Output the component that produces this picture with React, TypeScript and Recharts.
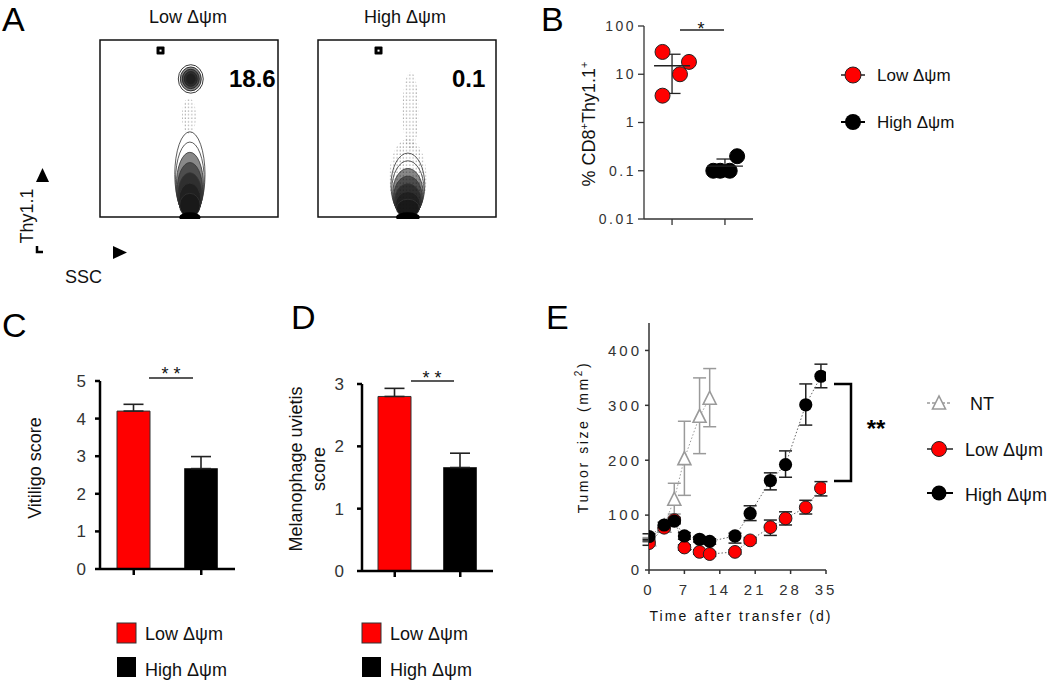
import React from 'react'
import {
  Bar,
  BarChart,
  Cell,
  ErrorBar,
  Legend,
  ReferenceArea,
  Scatter,
  ScatterChart,
  XAxis,
  YAxis,
} from 'recharts'

const FONT = '"Liberation Sans", Arial, Helvetica, sans-serif'
const RED = '#ff0000'
const INK = '#111'
const TICK = '#333'
const NT_GREY = '#9a9a9a'

// ---------- A: flow plots (SSC vs Thy1.1, 0-100 display units) ----------
type Pop = { ssc: number; thy: number; w: number; h: number; kind: 'blob' | 'column' | 'cloud' }
const lowFlow: Pop[] = [
  { ssc: 50, thy: 57, w: 4, h: 10, kind: 'cloud' },
  { ssc: 51, thy: 78, w: 7, h: 8, kind: 'blob' },
  { ssc: 50.5, thy: 24, w: 8.5, h: 24, kind: 'column' },
]
const highFlow: Pop[] = [
  { ssc: 52, thy: 60, w: 4.5, h: 22, kind: 'cloud' },
  { ssc: 50.5, thy: 22, w: 10.5, h: 22, kind: 'cloud' },
  { ssc: 50.5, thy: 18, w: 9.5, h: 18, kind: 'column' },
]
const gateLow = [{ ssc: 34, thy: 94 }]
const gateHigh = [{ ssc: 34, thy: 94 }]
const pctLow = '18.6'
const pctHigh = '0.1'

// ---------- B: % CD8+Thy1.1+ (log), x = group index + jitter ----------
const lowB = [
  { x: -0.18, y: 29 },
  { x: 0.32, y: 18 },
  { x: 0.15, y: 10 },
  { x: -0.18, y: 3.6 },
]
const highB = [
  { x: 0.78, y: 0.1 },
  { x: 0.91, y: 0.1 },
  { x: 1.09, y: 0.1 },
  { x: 1.23, y: 0.2 },
]
const meanB = [15, 0.125]
const sdB = [11, 0.05]
const logTicks = [0.01, 0.1, 1, 10, 100]

// ---------- C / D: scores ----------
const groups = ['Low Δψm', 'High Δψm']
const vitiligoScore = [4.2, 2.67]
const vitiligoSem = [0.18, 0.32]
const uveitisScore = [2.8, 1.66]
const uveitisSem = [0.13, 0.23]

// ---------- E: tumor growth ----------
const ntDays = [0, 3, 5, 7, 10, 12]
const ntSize = [55, 80, 129, 203, 280, 313]
const ntErr = [[4, 4], [5, 5], [27, 29], [67, 68], [68, 70], [52, 54]]
const txDays = [0, 3, 5, 7, 10, 12, 17, 20, 24, 27, 31, 34]
const lowSize = [49, 77, 91, 41, 33, 29, 33, 54, 78, 94, 114, 149]
const lowErr = [[4, 4], [5, 5], [5, 5], [5, 5], [4, 4], [4, 4], [4, 4], [5, 5], [15, 13], [12, 12], [12, 13], [14, 12]]
const highSize = [61, 82, 89, 62, 56, 52, 62, 103, 163, 192, 301, 353]
const highErr = [[5, 5], [5, 5], [5, 5], [6, 6], [5, 5], [5, 5], [13, 5], [13, 14], [17, 14], [23, 25], [37, 38], [21, 22]]

const PX = 1.78 // px per flow unit

function PopShape(props: any) {
  const { cx, cy, payload } = props
  const p = payload as Pop
  const rx = p.w * PX
  const ry = p.h * PX
  if (p.kind === 'cloud') {
    return (
      <g>
        <defs>
          <pattern id="stipple" width={3.2} height={3.6} patternUnits="userSpaceOnUse">
            <circle cx={1} cy={1} r={0.6} fill="#000" />
          </pattern>
        </defs>
        <ellipse cx={cx} cy={cy} rx={rx} ry={ry} fill="url(#stipple)" opacity={0.6} />
      </g>
    )
  }
  if (p.kind === 'blob') {
    const ks = [1, 0.84, 0.68, 0.52, 0.36]
    return (
      <g>
        {ks.map((k, i) => (
          <ellipse key={i} cx={cx} cy={cy} rx={rx * k} ry={ry * k}
            fill={i >= 1 ? '#111' : 'none'} fillOpacity={i >= 1 ? 0.5 : 0} stroke="#222" strokeWidth={0.9} />
        ))}
      </g>
    )
  }
  const bottom = cy + ry
  const ks = [1, 0.88, 0.76, 0.64, 0.52, 0.4, 0.28]
  return (
    <g>
      {ks.map((k, i) => (
        <ellipse key={i} cx={cx} cy={bottom - ry * k} rx={rx * (0.55 + 0.45 * k)} ry={ry * k}
          fill={i >= 2 ? '#111' : 'none'} fillOpacity={i >= 2 ? 0.5 : 0}
          stroke="#333" strokeWidth={0.8} />
      ))}
      <ellipse cx={cx} cy={bottom} rx={rx * 0.7} ry={5} fill="#000" />
    </g>
  )
}

function GateShape(props: any) {
  const { cx, cy } = props
  return (
    <g>
      <rect x={cx - 4} y={cy - 4} width={8} height={8} rx={1} fill="#000" />
      <rect x={cx - 1} y={cy - 1} width={2} height={2} fill="#fff" />
    </g>
  )
}

function FlowPlot({ left, data, gate }: { left: number; data: Pop[]; gate: { ssc: number; thy: number }[] }) {
  return (
    <div style={{ position: 'absolute', left: left - 2, top: 38 }}>
      <ScatterChart width={182} height={181} margin={{ top: 2, right: 2, bottom: 2, left: 2 }}>
        <XAxis type="number" dataKey="ssc" domain={[0, 100]} hide />
        <YAxis type="number" dataKey="thy" domain={[0, 100]} hide />
        <ReferenceArea x1={0} x2={100} y1={0} y2={100} fill="#fff" fillOpacity={0} stroke="#111" strokeWidth={1.5} />
        <Scatter data={data} shape={PopShape} isAnimationActive={false} />
        <Scatter data={gate} shape={GateShape} isAnimationActive={false} />
      </ScatterChart>
    </div>
  )
}

function RedDot(props: any) {
  return <circle cx={props.cx} cy={props.cy} r={7.5} fill={RED} stroke="#222" strokeWidth={1} />
}
function BlackDot(props: any) {
  return <circle cx={props.cx} cy={props.cy} r={7.5} fill="#000" stroke="#000" strokeWidth={1} />
}
function MeanTick(props: any) {
  return <line x1={props.cx - 18} x2={props.cx + 18} y1={props.cy} y2={props.cy} stroke="#222" strokeWidth={1.3} />
}

function LegendB() {
  return (
    <svg width={210} height={90} style={{ fontFamily: FONT }}>
      <line x1={6} x2={30} y1={20} y2={20} stroke="#222" strokeWidth={1.5} />
      <circle cx={18} cy={20} r={8} fill={RED} stroke="#222" />
      <text x={42} y={26} fontSize={17} fill={INK}>{groups[0]}</text>
      <line x1={6} x2={30} y1={67} y2={67} stroke="#000" strokeWidth={2} />
      <circle cx={18} cy={67} r={8} fill="#000" />
      <text x={42} y={73} fontSize={17} fill={INK}>{groups[1]}</text>
    </svg>
  )
}

function PanelB() {
  const summary = meanB.map((m, i) => ({ x: i, y: m, sd: [sdB[i], sdB[i]] }))
  return (
    <div style={{ position: 'absolute', left: 560, top: 10 }}>
      <ScatterChart width={490} height={260} margin={{ top: 16, right: 297, bottom: 0, left: 0 }}>
        <XAxis type="number" dataKey="x" domain={[-0.53, 1.53]} ticks={[0, 1]} allowDataOverflow
          tickFormatter={() => ''} tickSize={6} height={51}
          axisLine={{ stroke: '#333', strokeWidth: 1.3 }} tickLine={{ stroke: '#333', strokeWidth: 1.3 }} />
        <YAxis type="number" dataKey="y" scale="log" domain={[0.01, 100]} ticks={logTicks} allowDataOverflow
          width={84} tickSize={6} tickMargin={2}
          tick={{ fontSize: 14, fill: TICK, letterSpacing: 2.5 }}
          axisLine={{ stroke: '#333', strokeWidth: 1.3 }} tickLine={{ stroke: '#333', strokeWidth: 1.3 }}
          label={() => (
            <text transform="translate(35,114) rotate(-90)" textAnchor="middle" fontSize={18} fill={INK}>
              % CD8<tspan dy={-7} fontSize={11}>+</tspan>
              <tspan dy={7}>Thy1.1</tspan>
              <tspan dy={-7} fontSize={11}>+</tspan>
            </text>
          )} />
        <Scatter data={lowB} shape={RedDot} isAnimationActive={false} />
        <Scatter data={highB} shape={BlackDot} isAnimationActive={false} />
        <Scatter data={summary} shape={MeanTick} isAnimationActive={false}>
          <ErrorBar dataKey="sd" direction="y" width={8.5} stroke="#222" strokeWidth={1.3} />
        </Scatter>
        <Legend layout="vertical" align="center" verticalAlign="middle"
          wrapperStyle={{ left: 275, top: 45 }} content={() => <LegendB />} />
      </ScatterChart>
    </div>
  )
}

function LegendBars() {
  return (
    <svg width={150} height={72} style={{ fontFamily: FONT }}>
      <rect x={7} y={8} width={19} height={20} fill={RED} stroke="#333" strokeWidth={1} />
      <text x={35} y={25} fontSize={18} fill={INK}>{groups[0]}</text>
      <rect x={7} y={42} width={19} height={20} fill="#000" />
      <text x={35} y={61} fontSize={18} fill={INK}>{groups[1]}</text>
    </svg>
  )
}

type BarPanelProps = {
  left: number
  scores: number[]
  sems: number[]
  max: number
  yWidth: number
  top: number
  right: number
  tickMargin: number
  title: () => React.ReactElement
}

function BarPanel({ left, scores, sems, max, yWidth, top, right, tickMargin, title }: BarPanelProps) {
  const rows = groups.map((g, i) => ({ group: g, score: scores[i], sem: [0, sems[i]] }))
  const ticks = Array.from({ length: max + 1 }, (_, i) => i)
  const bottom = 690 - 350 - top - (max === 5 ? 188 : 187) - 30
  return (
    <div style={{ position: 'absolute', left, top: 350 }}>
      <BarChart width={230} height={340} data={rows} margin={{ top, right, bottom, left: 0 }}>
        <XAxis dataKey="group" type="category" height={30} tickFormatter={() => ''} tickSize={6}
          axisLine={{ stroke: '#000', strokeWidth: 2.5 }} tickLine={{ stroke: '#000', strokeWidth: 2.5 }} />
        <YAxis type="number" domain={[0, max]} ticks={ticks} width={yWidth} tickSize={5} tickMargin={tickMargin}
          tick={{ fontSize: 17, fill: TICK }}
          axisLine={{ stroke: '#000', strokeWidth: 2.5 }} tickLine={{ stroke: '#000', strokeWidth: 2.5 }}
          label={title} />
        <Bar dataKey="score" barSize={33} isAnimationActive={false} stroke="#333" strokeWidth={1}>
          {rows.map((r, i) => (
            <Cell key={r.group} fill={i === 0 ? RED : '#000'} />
          ))}
          <ErrorBar dataKey="sem" direction="y" width={10} stroke="#222" strokeWidth={1.6} />
        </Bar>
        <Legend layout="vertical" align="center" verticalAlign="middle"
          wrapperStyle={{ left: left === 20 ? 90 : 75, top: 265 }} content={() => <LegendBars />} />
      </BarChart>
    </div>
  )
}

function Tri(props: any) {
  const { cx, cy } = props
  return (
    <polygon points={`${cx - 6.5},${cy + 6} ${cx + 6.5},${cy + 6} ${cx},${cy - 7}`}
      fill="#fff" stroke={NT_GREY} strokeWidth={1.6} />
  )
}
function RedE(props: any) {
  return <circle cx={props.cx} cy={props.cy} r={6.4} fill={RED} stroke="#222" strokeWidth={1} />
}
function BlackE(props: any) {
  return <circle cx={props.cx} cy={props.cy} r={6.6} fill="#000" />
}

function LegendE() {
  return (
    <svg width={140} height={130} style={{ fontFamily: FONT }}>
      <line x1={7} x2={31} y1={18} y2={18} stroke={NT_GREY} strokeWidth={1.5} strokeDasharray="3 2" />
      <polygon points="12.5,24 25.5,24 19,11" fill="#fff" stroke={NT_GREY} strokeWidth={1.6} />
      <text x={50} y={25} fontSize={18} fill={INK}>NT</text>
      <line x1={7} x2={33} y1={64} y2={64} stroke="#222" strokeWidth={1.5} />
      <circle cx={19} cy={64} r={7.5} fill={RED} stroke="#222" />
      <text x={45} y={71} fontSize={18} fill={INK}>{groups[0]}</text>
      <line x1={7} x2={33} y1={108} y2={108} stroke="#000" strokeWidth={2} />
      <circle cx={19} cy={108} r={7.5} fill="#000" />
      <text x={45} y={116} fontSize={18} fill={INK}>{groups[1]}</text>
    </svg>
  )
}

function PanelE() {
  const ntRows = ntDays.map((d, i) => ({ day: d, size: ntSize[i], err: ntErr[i] }))
  const lowRows = txDays.map((d, i) => ({ day: d, size: lowSize[i], err: lowErr[i] }))
  const highRows = txDays.map((d, i) => ({ day: d, size: highSize[i], err: highErr[i] }))
  const axis = { stroke: '#333', strokeWidth: 1.5 }
  return (
    <div style={{ position: 'absolute', left: 560, top: 300 }}>
      <ScatterChart width={490} height={330} margin={{ top: 23, right: 224, bottom: 0, left: 0 }}>
        <XAxis type="number" dataKey="day" domain={[0, 35]} ticks={[0, 7, 14, 21, 28, 35]} allowDataOverflow
          height={60} tickSize={4} tickMargin={10}
          tick={{ fontSize: 15, fill: TICK, letterSpacing: 3 }} axisLine={axis} tickLine={axis}
          label={() => (
            <text x={181} y={321} textAnchor="middle" fontSize={14} letterSpacing={2.1} fill={INK}>
              Time after transfer (d)
            </text>
          )} />
        <YAxis type="number" dataKey="size" domain={[0, 450]} ticks={[0, 100, 200, 300, 400]} allowDataOverflow
          width={89} tickSize={4} tickMargin={3}
          tick={{ fontSize: 15, fill: TICK, letterSpacing: 3 }} axisLine={axis} tickLine={axis}
          label={() => (
            <text transform="translate(28,137) rotate(-90)" textAnchor="middle" fontSize={14} letterSpacing={2.6} fill={INK}>
              Tumor size (mm<tspan dy={-6} fontSize={10}>2</tspan>
              <tspan dy={6}>)</tspan>
            </text>
          )} />
        <Scatter data={ntRows} shape={Tri} isAnimationActive={false}
          line={{ stroke: NT_GREY, strokeWidth: 1, strokeDasharray: '1.5 2' }}>
          <ErrorBar dataKey="err" direction="y" width={6.5} stroke={NT_GREY} strokeWidth={1.5} />
        </Scatter>
        <Scatter data={lowRows} shape={RedE} isAnimationActive={false}
          line={{ stroke: '#666', strokeWidth: 1, strokeDasharray: '1.5 2' }}>
          <ErrorBar dataKey="err" direction="y" width={6.5} stroke="#222" strokeWidth={1.5} />
        </Scatter>
        <Scatter data={highRows} shape={BlackE} isAnimationActive={false}
          line={{ stroke: '#666', strokeWidth: 1, strokeDasharray: '1.5 2' }}>
          <ErrorBar dataKey="err" direction="y" width={6.5} stroke="#222" strokeWidth={1.5} />
        </Scatter>
        <Legend layout="vertical" align="center" verticalAlign="middle"
          wrapperStyle={{ left: 360, top: 85 }} content={() => <LegendE />} />
      </ScatterChart>
    </div>
  )
}

// panel letters, flow annotations and significance marks
function Overlay() {
  return (
    <svg width={1050} height={683} style={{ position: 'absolute', left: 0, top: 0, pointerEvents: 'none', fontFamily: FONT }}>
      <g fontSize={34} fill="#000">
        <text x={2} y={31}>A</text>
        <text x={541} y={31}>B</text>
        <text x={2} y={337}>C</text>
        <text x={291} y={329}>D</text>
        <text x={546} y={329}>E</text>
      </g>
      <text x={188} y={23} textAnchor="middle" fontSize={18} fill={INK}>Low Δψm</text>
      <text x={405} y={23} textAnchor="middle" fontSize={18} fill={INK}>High Δψm</text>
      <text x={229} y={87} fontSize={24} fontWeight="bold" fill="#000">{pctLow}</text>
      <text x={452} y={87} fontSize={24} fontWeight="bold" fill="#000">{pctHigh}</text>
      <text transform="translate(33,216) rotate(-90)" textAnchor="middle" fontSize={18} fill={INK}>Thy1.1</text>
      <polygon points="36,182 49,182 42.5,168" fill="#000" />
      <polyline points="37,246 37,252 43,252" fill="none" stroke="#000" strokeWidth={2.5} />
      <polygon points="113,246 113,259 127,252.5" fill="#000" />
      <text x={65} y={283} fontSize={18} fill={INK}>SSC</text>

      <line x1={680} x2={724} y1={30} y2={30} stroke="#222" strokeWidth={1.3} />
      <text x={701} y={35} textAnchor="middle" fontSize={18} fill={INK}>*</text>

      <line x1={149} x2={193} y1={378} y2={378} stroke="#222" strokeWidth={1.3} />
      <text x={171} y={380} textAnchor="middle" fontSize={18} fill={INK}>* *</text>

      <line x1={411} x2={454} y1={381} y2={381} stroke="#222" strokeWidth={1.3} />
      <text x={432} y={384} textAnchor="middle" fontSize={18} fill={INK}>* *</text>

      <path d="M834,384 H851 V481 H834" fill="none" stroke="#000" strokeWidth={2.5} />
      <text x={876} y={437} textAnchor="middle" fontSize={24} fontWeight="bold" fill="#000">**</text>
    </svg>
  )
}

export default function App() {
  return (
    <div style={{ position: 'absolute', left: 0, top: 0, width: 1050, height: 683, background: '#fff', fontFamily: FONT, overflow: 'hidden' }}>
      <FlowPlot left={100} data={lowFlow} gate={gateLow} />
      <FlowPlot left={318} data={highFlow} gate={gateHigh} />
      <PanelB />
      <BarPanel left={20} scores={vitiligoScore} sems={vitiligoSem} max={5} yWidth={80} top={31} right={15}
        tickMargin={9}
        title={() => (
          <text transform="translate(21,118) rotate(-90)" textAnchor="middle" fontSize={18} fill={INK}>Vitiligo score</text>
        )} />
      <BarPanel left={280} scores={uveitisScore} sems={uveitisSem} max={3} yWidth={82} top={34} right={17}
        tickMargin={13}
        title={() => (
          <text transform="translate(22,119) rotate(-90)" textAnchor="middle" fontSize={18} fill={INK}>
            Melanophage uvietis
            <tspan x={0} dy={23}>score</tspan>
          </text>
        )} />
      <PanelE />
      <Overlay />
    </div>
  )
}
